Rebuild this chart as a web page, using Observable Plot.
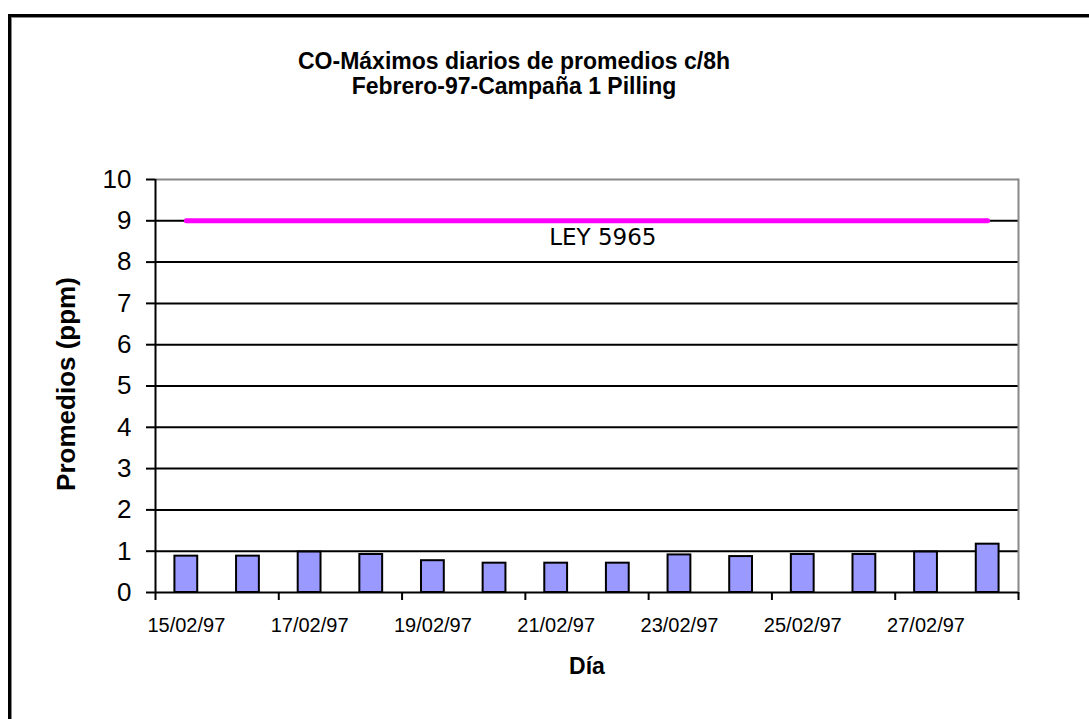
<!DOCTYPE html>
<html>
<head>
<meta charset="utf-8">
<script src="https://cdn.jsdelivr.net/npm/d3@7"></script>
<script src="https://cdn.jsdelivr.net/npm/@observablehq/plot@0.6"></script>
<style>
  html, body { margin: 0; padding: 0; background: #fff; }
  #wrap { position: relative; width: 1089px; height: 719px; overflow: hidden; }
  #frame { position: absolute; left: 8px; top: 14px; width: 1200px; height: 800px;
           border-left: 3px solid #000; border-top: 3px solid #000; box-sizing: border-box; }
  #frame2 { position: absolute; left: 11px; top: 17px; width: 1200px; height: 800px;
           border-left: 1px solid #888; border-top: 1px solid #888; box-sizing: border-box; }
  #title { position: absolute; left: 0; width: 1028px; top: 49px; text-align: center;
           font-family: "Liberation Sans", Arial, sans-serif; font-weight: bold; font-size: 23px;
           line-height: 25px; color: #000; }
  #chart { position: absolute; left: 0; top: 0; }
</style>
</head>
<body>
<div id="wrap">
  <div id="frame"></div>
  <div id="frame2"></div>
  <div id="chart"></div>
  <div id="title">CO-Máximos diarios de promedios c/8h<br>Febrero-97-Campaña 1 Pilling</div>
</div>
<script>
// Data
const dates = ["15/02/97","16/02/97","17/02/97","18/02/97","19/02/97","20/02/97","21/02/97",
               "22/02/97","23/02/97","24/02/97","25/02/97","26/02/97","27/02/97","28/02/97"];
const values = [0.88, 0.88, 0.98, 0.92, 0.77, 0.71, 0.71, 0.71, 0.91, 0.87, 0.92, 0.92, 0.98, 1.17];
const leyLimit = 9;
const leyLabel = "LEY 5965";
const labelDates = ["15/02/97","17/02/97","19/02/97","21/02/97","23/02/97","25/02/97","27/02/97"];
const yTicks = [0,1,2,3,4,5,6,7,8,9,10];
const yLabel = "Promedios (ppm)";
const xLabel = "Día";

const data = dates.map((d, i) => ({date: d, value: values[i]}));
const leyData = dates.map(d => ({date: d, value: leyLimit}));

const W = 1089, H = 719;
const mL = 155, mR = 71, mT = 179, mB = 127;
const step = (W - mL - mR) / dates.length;
const pad = 0.63;

const chart = Plot.plot({
  width: W, height: H,
  marginLeft: mL, marginRight: mR, marginTop: mT, marginBottom: mB,
  style: {background: "transparent", fontFamily: "Liberation Sans, Arial, sans-serif", color: "#000"},
  x: {type: "band", domain: dates, paddingInner: pad, paddingOuter: pad / 2, round: false},
  y: {domain: [0, 10]},
  marks: [
    // gridlines
    Plot.ruleY(yTicks.filter(t => t > 0 && t < 10), {stroke: "#000", strokeWidth: 2}),
    Plot.ruleY([10], {stroke: "#888", strokeWidth: 2}),
    Plot.frame({anchor: "right", stroke: "#888", strokeWidth: 2}),
    // bars
    Plot.barY(data, {x: "date", y: "value", fill: "#9999FF", stroke: "#000", strokeWidth: 2}),
    // limit line
    Plot.lineY(leyData, {x: "date", y: "value", stroke: "#FF00FF", strokeWidth: 5}),
    Plot.text([leyLabel], {x: () => "22/02/97", y: () => leyLimit, dx: -15, dy: 17,
      fontFamily: "DejaVu Sans, Verdana, sans-serif", fontSize: 23, fill: "#000"}),
    // y axis
    Plot.axisY({ticks: yTicks, tickSize: 9, tickPadding: 15, fontSize: 26, tickFormat: d => d,
      label: null, stroke: "#000", strokeWidth: 2}),
    Plot.ruleX([dates[0]], {y1: 0, y2: 10, dx: -step / 2, stroke: "#000", strokeWidth: 2}),
    // x axis
    Plot.ruleY([0], {stroke: "#000", strokeWidth: 2}),
    Plot.axisX({ticks: labelDates, tickSize: 8, dx: -step / 2,
      tickFormat: () => "", label: null, stroke: "#000", strokeWidth: 2}),
    Plot.axisX({ticks: ["28/02/97"], tickSize: 8, dx: step / 2,
      tickFormat: () => "", label: null, stroke: "#000", strokeWidth: 2}),
    Plot.axisX({ticks: labelDates, tickSize: 0, tickPadding: 25, fontSize: 20, label: null,
      style: {letterSpacing: "2px"}}),
    // axis titles
    Plot.text([yLabel], {frameAnchor: "left", textAnchor: "middle", rotate: -90, dx: -89, dy: -2,
      fontWeight: "bold", fontSize: 26, fill: "#000", style: {letterSpacing: "1px"}}),
    Plot.text([xLabel], {frameAnchor: "bottom", dy: 81,
      fontWeight: "bold", fontSize: 23, fill: "#000"})
  ]
});
document.getElementById("chart").appendChild(chart);
</script>
</body>
</html>
